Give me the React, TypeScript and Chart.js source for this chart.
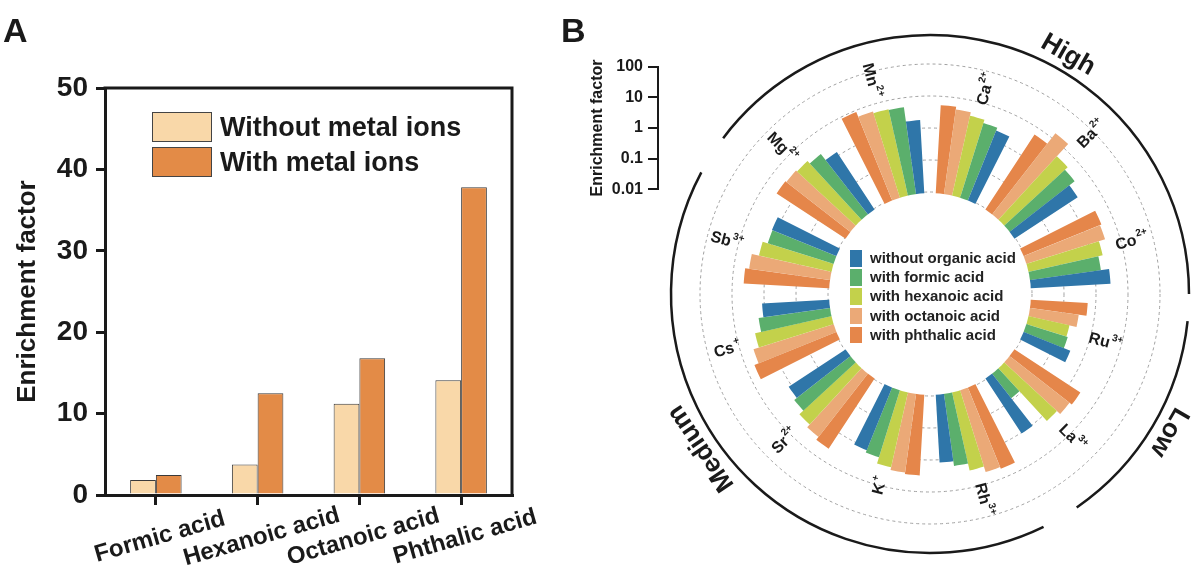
import React, { useEffect, useRef } from 'react';
import { Chart, registerables } from 'chart.js';

Chart.register(...registerables);

const FONT = "'Liberation Sans', Arial, Helvetica, sans-serif";
const INK = '#1a1a1a';

// ---------- Panel A data ----------
const acids = ['Formic acid', 'Hexanoic acid', 'Octanoic acid', 'Phthalic acid'];
const withoutMetalIons = [1.84, 3.75, 11.2, 14.1];
const withMetalIons = [2.45, 12.5, 16.8, 37.8];
const seriesNamesA = ['Without metal ions', 'With metal ions'];
const colorsA = ['#F9D8A9', '#E38B47'];

// ---------- Panel B data ----------
const ionSymbols = ['Ca', 'Ba', 'Co', 'Ru', 'La', 'Rh', 'K', 'Sr', 'Cs', 'Sb', 'Mg', 'Mn'];
const ionCharges = ['2+', '2+', '2+', '3+', '3+', '3+', '+', '2+', '+', '3+', '2+', '2+'];
const withoutOrganicAcid = [2.1, 2.15, 2.9, 0.35, 1.07, 1.23, 1.2, 1.24, 1.17, 1.38, 1.32, 1.8];
const withFormicAcid = [2.6, 3.5, 1.6, 0.21, 0.087, 1.73, 1.44, 1.56, 1.66, 1.33, 2.28, 5.1];
const withHexanoicAcid = [3.3, 4.6, 2.2, 0.19, 1.6, 2.9, 2.3, 2.3, 2.6, 1.95, 2.9, 5.4];
const withOctanoicAcid = [4.3, 15.3, 3.5, 0.32, 2.2, 4.4, 2.8, 3.0, 3.9, 3.3, 3.2, 6.1];
const withPhthalicAcid = [5.3, 5.9, 3.9, 0.56, 2.7, 5.1, 3.1, 3.9, 5.4, 4.4, 3.5, 8.9];
const seriesNamesB = [
  'without organic acid',
  'with formic acid',
  'with hexanoic acid',
  'with octanoic acid',
  'with phthalic acid',
];
const colorsB = ['#2F76A9', '#5BAF6C', '#C3D14B', '#EBA977', '#E5864A'];
const logTicks = [0.01, 0.1, 1, 10, 100];
const levelNames = ['High', 'Low', 'Medium'];

// ---------- layout constants ----------
const GAP_DEG = 6.5;
const BAR_DEG = (30 - GAP_DEG) / 5;
const R_MIN = -3.1875; // scale units: decades above 0.01
const R_MAX = 5.25;
const levelArcs = [
  { from: -53, to: 90, text: 30 },
  { from: 96, to: 145.5, text: 120 },
  { from: 154, to: 298, text: 236 },
];

const seriesB = [withoutOrganicAcid, withFormicAcid, withHexanoicAcid, withOctanoicAcid, withPhthalicAcid];
const clockwiseOrder = [4, 3, 2, 1, 0];
const toDecades = (v: number) => Math.log10(v) - Math.log10(logTicks[0]);

const slotValues: (number | null)[] = [];
const slotColors: string[] = [];
const slotAngles: number[] = [];
const slotLabels: string[] = [];
ionSymbols.forEach((sym, g) => {
  slotValues.push(null);
  slotColors.push('rgba(0,0,0,0)');
  slotAngles.push(GAP_DEG);
  slotLabels.push('');
  clockwiseOrder.forEach((s) => {
    slotValues.push(toDecades(seriesB[s][g]));
    slotColors.push(colorsB[s]);
    slotAngles.push(BAR_DEG);
    slotLabels.push(sym + ionCharges[g] + ' ' + seriesNamesB[s]);
  });
});

const framePlugin = {
  id: 'frameA',
  afterDraw(chart: any) {
    const { ctx, chartArea } = chart;
    ctx.save();
    ctx.strokeStyle = INK;
    ctx.lineWidth = 3;
    ctx.lineCap = 'square';
    ctx.beginPath();
    ctx.moveTo(chartArea.left, chartArea.top);
    ctx.lineTo(chartArea.right, chartArea.top);
    ctx.lineTo(chartArea.right, chartArea.bottom);
    ctx.stroke();
    // rotated category labels centred under their ticks
    const xs = chart.scales.x;
    ctx.font = `bold 24px ${FONT}`;
    ctx.fillStyle = INK;
    ctx.textAlign = 'center';
    ctx.textBaseline = 'middle';
    xs.getLabels().forEach((label: string, i: number) => {
      ctx.save();
      ctx.translate(xs.getPixelForTick(i) + 4, chartArea.bottom + 42);
      ctx.rotate((-16 * Math.PI) / 180);
      ctx.fillText(label, 0, 0);
      ctx.restore();
    });
    ctx.restore();
  },
};

const radialDecor = {
  id: 'radialDecor',
  afterDatasetsDraw(chart: any) {
    const ctx = chart.ctx;
    const r = chart.scales.r;
    const cx = r.xCenter;
    const cy = r.yCenter;
    ctx.save();
    // hollow centre
    ctx.fillStyle = '#ffffff';
    ctx.beginPath();
    ctx.arc(cx, cy, r.getDistanceFromCenterForValue(0) - 1, 0, Math.PI * 2);
    ctx.fill();

    // ion labels
    const meta = chart.getDatasetMeta(0);
    ionSymbols.forEach((sym, g) => {
      const els = meta.data.slice(g * 6 + 1, g * 6 + 6);
      const maxR = Math.max(...els.map((e: any) => e.outerRadius));
      const mid = (els[0].startAngle + els[4].endAngle) / 2;
      ctx.font = `bold 16px ${FONT}`;
      const wS = ctx.measureText(sym).width;
      ctx.font = `bold 10px ${FONT}`;
      const wC = ctx.measureText(ionCharges[g]).width;
      const total = wS + wC + 1;
      const rad = maxR + 7 + total / 2;
      const x = cx + rad * Math.cos(mid);
      const y = cy + rad * Math.sin(mid);
      const rot = Math.cos(mid) >= -0.0001 ? mid : mid + Math.PI;
      ctx.save();
      ctx.translate(x, y);
      ctx.rotate(rot);
      ctx.fillStyle = INK;
      ctx.textAlign = 'left';
      ctx.textBaseline = 'alphabetic';
      ctx.font = `bold 16px ${FONT}`;
      ctx.fillText(sym, -total / 2, 5.8);
      ctx.font = `bold 10px ${FONT}`;
      ctx.fillText(ionCharges[g], -total / 2 + wS + 1, -2);
      ctx.restore();
    });

    // level rings
    const ringR = r.drawingArea - 11;
    ctx.strokeStyle = INK;
    ctx.lineWidth = 2.5;
    levelArcs.forEach((a, i) => {
      ctx.beginPath();
      ctx.arc(cx, cy, ringR, ((a.from - 90) * Math.PI) / 180, ((a.to - 90) * Math.PI) / 180);
      ctx.stroke();
      const t = (a.text * Math.PI) / 180;
      const tr = ringR + 17;
      ctx.save();
      ctx.translate(cx + tr * Math.sin(t), cy - tr * Math.cos(t));
      ctx.rotate(t);
      ctx.font = `bold 26px ${FONT}`;
      ctx.fillStyle = INK;
      ctx.textAlign = 'center';
      ctx.textBaseline = 'middle';
      ctx.fillText(levelNames[i], 0, 0);
      ctx.restore();
    });
    ctx.restore();
  },
};

export default function App() {
  const aRef = useRef<HTMLCanvasElement>(null);
  const bRef = useRef<HTMLCanvasElement>(null);
  const axRef = useRef<HTMLCanvasElement>(null);

  useEffect(() => {
    const chartA = new Chart(aRef.current as HTMLCanvasElement, {
      type: 'bar',
      data: {
        labels: acids,
        datasets: [
          { label: seriesNamesA[0], data: withoutMetalIons, backgroundColor: colorsA[0], borderColor: '#3a3a3a', borderWidth: 1 },
          { label: seriesNamesA[1], data: withMetalIons, backgroundColor: colorsA[1], borderColor: '#3a3a3a', borderWidth: 1 },
        ],
      },
      options: {
        responsive: false,
        animation: false,
        events: [],
        layout: { padding: { top: 88, right: 48, left: 0, bottom: 0 } },
        datasets: { bar: { categoryPercentage: 0.506, barPercentage: 1 } },
        plugins: { legend: { display: false }, tooltip: { enabled: false } },
        scales: {
          x: {
            offset: true,
            afterFit: (s: any) => { s.height = 78; },
            ticks: { display: false },
            grid: { offset: false, drawOnChartArea: false, drawTicks: true, tickLength: 10, lineWidth: 3, color: INK },
            border: { display: true, width: 3, color: INK },
          },
          y: {
            min: 0,
            max: 50,
            afterFit: (s: any) => { s.width = 105; },
            ticks: { stepSize: 10, padding: 8, color: INK, font: { family: FONT, size: 28, weight: 'bold' } },
            grid: { drawOnChartArea: false, drawTicks: true, tickLength: 9, lineWidth: 3, color: INK },
            border: { display: true, width: 3, color: INK },
            title: {
              display: true,
              text: 'Enrichment factor',
              color: INK,
              font: { family: FONT, size: 26, weight: 'bold' },
              padding: { top: 12, bottom: 0 },
            },
          },
        },
      } as any,
      plugins: [framePlugin],
    });

    const chartB = new Chart(bRef.current as HTMLCanvasElement, {
      type: 'polarArea',
      data: {
        labels: slotLabels,
        datasets: [
          {
            data: slotValues,
            backgroundColor: slotColors,
            borderWidth: 0,
            angle: (c: any) => slotAngles[c.dataIndex],
          } as any,
        ],
      },
      options: {
        responsive: false,
        animation: false,
        events: [],
        layout: { padding: { left: 80, right: 0, top: 24, bottom: 9 } },
        plugins: { legend: { display: false }, tooltip: { enabled: false } },
        scales: {
          r: {
            type: 'radialLinear',
            min: R_MIN,
            max: R_MAX,
            startAngle: -GAP_DEG / 2,
            ticks: { display: false, stepSize: 1 },
            pointLabels: { display: false },
            angleLines: { display: false },
            grid: {
              circular: true,
              lineWidth: 1,
              color: (c: any) => {
                const v = c.tick ? c.tick.value : NaN;
                return Number.isInteger(v) && v >= 0 && v <= logTicks.length - 1 ? '#a0a0a0' : 'rgba(0,0,0,0)';
              },
            },
            border: { dash: [3, 3] },
          },
        },
      } as any,
      plugins: [radialDecor],
    });

    const chartAx = new Chart(axRef.current as HTMLCanvasElement, {
      type: 'scatter',
      data: { datasets: [] },
      options: {
        responsive: false,
        animation: false,
        events: [],
        layout: { padding: { top: 12, bottom: 12, left: 0, right: 0 } },
        plugins: { legend: { display: false }, tooltip: { enabled: false } },
        scales: {
          x: { display: false },
          y: {
            type: 'logarithmic',
            min: logTicks[0],
            max: logTicks[logTicks.length - 1],
            afterBuildTicks: (s: any) => { s.ticks = logTicks.map((v) => ({ value: v })); },
            afterFit: (s: any) => { s.width = 78; },
            ticks: {
              autoSkip: false,
              padding: 5,
              color: INK,
              font: { family: FONT, size: 16, weight: 'bold' },
              callback: (v: any) => String(v),
            },
            grid: { display: true, drawOnChartArea: false, drawTicks: true, tickLength: 10, lineWidth: 2, color: INK },
            border: { display: true, width: 2, color: INK },
            title: {
              display: true,
              text: 'Enrichment factor',
              color: INK,
              font: { family: FONT, size: 16, weight: 'bold' },
              padding: { top: 8, bottom: 0 },
            },
          },
        },
      } as any,
    });

    return () => {
      chartA.destroy();
      chartB.destroy();
      chartAx.destroy();
    };
  }, []);

  const text = (extra: any) => ({ position: 'absolute', fontFamily: FONT, fontWeight: 'bold', color: INK, whiteSpace: 'nowrap', ...extra });

  return (
    <div style={{ position: 'absolute', left: 0, top: 0, width: 1200, height: 573, background: '#fff', overflow: 'hidden' }}>
      <canvas ref={aRef} width={560} height={573} style={{ position: 'absolute', left: 0, top: 0, width: 560, height: 573 }} />
      <canvas ref={bRef} width={620} height={573} style={{ position: 'absolute', left: 580, top: 0, width: 620, height: 573 }} />
      <canvas ref={axRef} width={100} height={152} style={{ position: 'absolute', left: 580, top: 52, width: 100, height: 152 }} />

      <div style={text({ left: 3, top: 13, fontSize: 34, lineHeight: '34px' })}>A</div>
      <div style={text({ left: 561, top: 13, fontSize: 34, lineHeight: '34px' })}>B</div>

      {seriesNamesA.map((name, i) => (
        <React.Fragment key={name}>
          <div style={{ position: 'absolute', left: 152, top: 112 + i * 35, width: 60, height: 30, boxSizing: 'border-box', border: '1.5px solid #444', background: colorsA[i] }} />
          <div style={text({ left: 220, top: 112 + i * 35, height: 30, lineHeight: '30px', fontSize: 27 })}>{name}</div>
        </React.Fragment>
      ))}

      {seriesNamesB.map((name, i) => (
        <React.Fragment key={name}>
          <div style={{ position: 'absolute', left: 850, top: 250 + i * 19.2, width: 12, height: 16.5, background: colorsB[i] }} />
          <div style={text({ left: 870, top: 250 + i * 19.2, height: 16.5, lineHeight: '16.5px', fontSize: 15, color: '#222' })}>{name}</div>
        </React.Fragment>
      ))}
    </div>
  );
}
